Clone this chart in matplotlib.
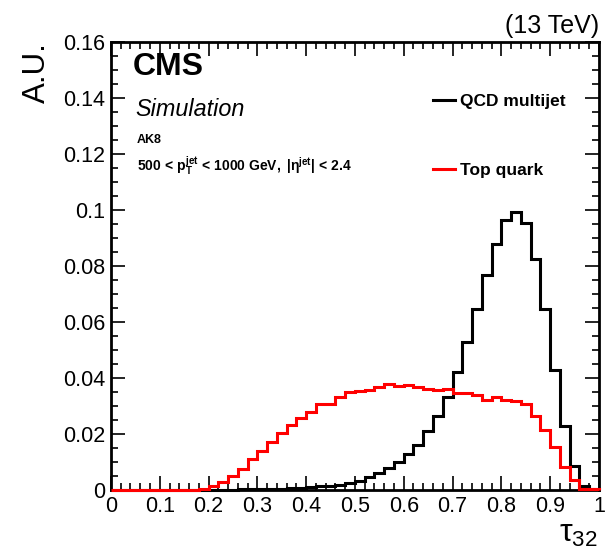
import matplotlib
matplotlib.use('Agg')
import matplotlib.pyplot as plt
import numpy as np
from matplotlib.ticker import MultipleLocator, FuncFormatter

plt.rcParams['font.family'] = ['Liberation Sans', 'DejaVu Sans']
plt.rcParams['mathtext.fontset'] = 'custom'
plt.rcParams['mathtext.rm'] = 'Liberation Sans'
plt.rcParams['mathtext.it'] = 'Liberation Sans:italic'
plt.rcParams['mathtext.bf'] = 'Liberation Sans:bold'

# tau32 histograms, 50 bins from 0 to 1
bin_edges = np.linspace(0, 1, 51)
qcd = [0, 0, 0, 0, 0, 0, 0, 0, 0, 0,
       0.0001, 0.0001, 0.0001, 0.0002, 0.0002, 0.0003, 0.0003, 0.0004, 0.0006, 0.0008,
       0.0010, 0.0013, 0.0016, 0.0018, 0.0025, 0.0032, 0.0047, 0.0061, 0.0079, 0.0100,
       0.0128, 0.0162, 0.0210, 0.0264, 0.0333, 0.0423, 0.0527, 0.0645, 0.0767, 0.0879,
       0.0965, 0.0993, 0.0955, 0.0826, 0.0645, 0.0427, 0.0228, 0.0086, 0.0014, 0.0005]
top = [0, 0, 0, 0, 0, 0, 0, 0, 0, 0.0003,
       0.0016, 0.0030, 0.0049, 0.0075, 0.0109, 0.0141, 0.0172, 0.0204, 0.0232, 0.0258,
       0.0280, 0.0307, 0.0307, 0.0331, 0.0350, 0.0355, 0.0358, 0.0367, 0.0379, 0.0370,
       0.0376, 0.0367, 0.0362, 0.0356, 0.0361, 0.0348, 0.0346, 0.0338, 0.0321, 0.0331,
       0.0323, 0.0319, 0.0307, 0.0265, 0.0216, 0.0152, 0.0081, 0.0035, 0.0005, 0.0002]

fig = plt.figure(figsize=(6.13, 5.54), dpi=100)
ax = fig.add_axes([0.181, 0.1155, 0.796, 0.8085])

ax.stairs(qcd, bin_edges, color='black', lw=2.2, label='QCD multijet',
          clip_on=False, zorder=3)
ax.stairs(top, bin_edges, color='red', lw=2.2, label='Top quark',
          clip_on=False, zorder=4)

ax.set_xlim(0, 1)
ax.set_ylim(0, 0.16)
ax.xaxis.set_major_locator(MultipleLocator(0.1))
ax.xaxis.set_minor_locator(MultipleLocator(0.02))
ax.yaxis.set_major_locator(MultipleLocator(0.02))
ax.yaxis.set_minor_locator(MultipleLocator(0.005))
fmt = FuncFormatter(lambda v, p: '%g' % round(v, 4))
ax.xaxis.set_major_formatter(fmt)
ax.yaxis.set_major_formatter(fmt)
ax.tick_params(which='both', direction='in', top=True, right=True, width=1.2)
ax.tick_params(which='major', length=10, labelsize=15.5, pad=4)
ax.tick_params(which='minor', length=5)
for s in ax.spines.values():
    s.set_linewidth(2)

ax.text(-0.12, 1.0, 'A.U.', rotation=90, ha='right', va='top',
        fontsize=22.5, transform=ax.transAxes)
ax.text(0.998, -0.065, r'$\mathrm{\tau}_{32}$', ha='right', va='top',
        fontsize=23, transform=ax.transAxes)
ax.text(1.0, 1.01, '(13 TeV)', ha='right', va='bottom', fontsize=18,
        transform=ax.transAxes)

ax.text(0.045, 0.944, 'CMS', fontsize=23, fontweight='bold', va='center',
        transform=ax.transAxes)
ax.text(0.05, 0.850, 'Simulation', fontsize=16.8, style='italic', va='center',
        transform=ax.transAxes)
ax.text(0.053, 0.781, 'AK8', fontsize=9, fontweight='bold', va='center',
        transform=ax.transAxes)
ax.text(0.053, 0.723,
        r'$\mathbf{500\,<\,p_{T}^{jet}\,<\,1000\ GeV,\ |\eta^{jet}|\,<\,2.4}$',
        fontsize=10, va='center', transform=ax.transAxes)

ax.legend(loc='upper left', bbox_to_anchor=(0.66, 0.885), frameon=False,
          prop={'weight': 'bold', 'size': 12.5}, handlelength=1.25,
          handletextpad=0.3, labelspacing=3.1, borderpad=0, borderaxespad=0)

plt.savefig('out.png', dpi=100)
